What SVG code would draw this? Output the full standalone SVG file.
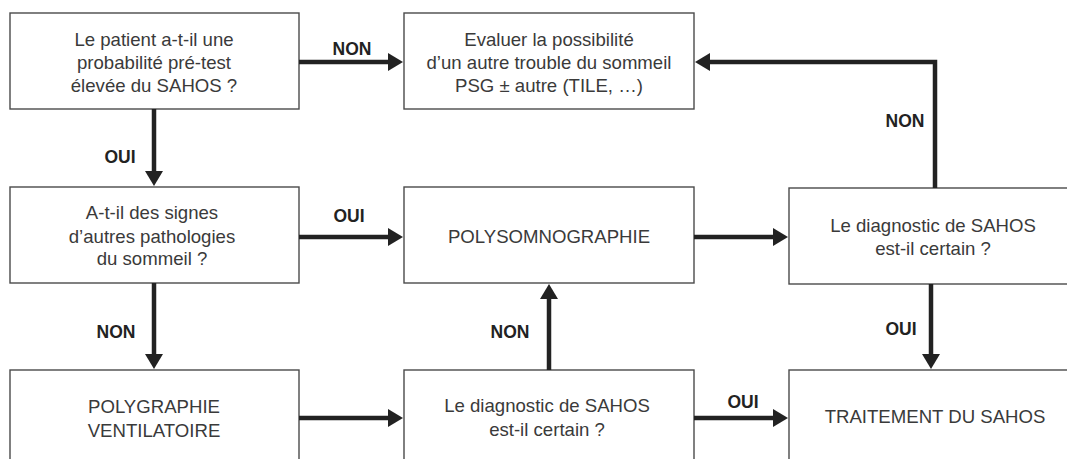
<svg xmlns="http://www.w3.org/2000/svg" width="1067" height="459" viewBox="0 0 1067 459">
<style>
.box{fill:#fff;stroke:#4a4a4a;stroke-width:1.4}
.t{font-family:"Liberation Sans",Arial,sans-serif;font-size:18.6px;fill:#3a3a3a;text-anchor:middle}
.lbl{font-family:"Liberation Sans",Arial,sans-serif;font-size:17.5px;font-weight:bold;fill:#222;text-anchor:middle}
.c{fill:none;stroke:#222;stroke-width:4.5;stroke-linecap:butt;stroke-linejoin:miter}
</style>
<defs>
<marker id="ah" markerUnits="userSpaceOnUse" markerWidth="16" markerHeight="20" refX="1" refY="9" orient="auto" viewBox="0 0 16 18">
<path d="M0,0 L15,9 L0,18 Z" fill="#222"/>
</marker>
</defs>
<rect width="1067" height="459" fill="#fff"/>
<g id="n1"><rect class="box" x="10" y="13" width="289" height="96"/>
<text class="t" x="154" y="46">Le patient a-t-il une</text>
<text class="t" x="154" y="69">probabilité pré-test</text>
<text class="t" x="154" y="92">élevée du SAHOS ?</text></g>
<g id="n2"><rect class="box" x="404" y="13" width="290" height="96"/>
<text class="t" x="549" y="46">Evaluer la possibilité</text>
<text class="t" x="549" y="69">d’un autre trouble du sommeil</text>
<text class="t" x="549" y="92">PSG ± autre (TILE, …)</text></g>
<g id="n3"><rect class="box" x="10" y="187" width="289" height="96"/>
<text class="t" x="152" y="219">A-t-il des signes</text>
<text class="t" x="152" y="243">d’autres pathologies</text>
<text class="t" x="152" y="265">du sommeil ?</text></g>
<g id="n4"><rect class="box" x="404" y="187" width="290" height="96"/>
<text class="t" x="549" y="243">POLYSOMNOGRAPHIE</text></g>
<g id="n5"><rect class="box" x="789" y="188" width="290" height="96"/>
<text class="t" x="933" y="232">Le diagnostic de SAHOS</text>
<text class="t" x="933" y="255">est-il certain ?</text></g>
<g id="n6"><rect class="box" x="10" y="370" width="289" height="100"/>
<text class="t" x="154" y="413">POLYGRAPHIE</text>
<text class="t" x="154" y="437">VENTILATOIRE</text></g>
<g id="n7"><rect class="box" x="404" y="370" width="290" height="100"/>
<text class="t" x="547" y="412">Le diagnostic de SAHOS</text>
<text class="t" x="547" y="436">est-il certain ?</text></g>
<g id="n8"><rect class="box" x="789" y="370" width="290" height="100"/>
<text class="t" x="935" y="423">TRAITEMENT DU SAHOS</text></g>
<g id="connectors">
<path class="c" d="M299,62 H389" marker-end="url(#ah)"/>
<path class="c" d="M154,109 V172" marker-end="url(#ah)"/>
<path class="c" d="M299,237 H389" marker-end="url(#ah)"/>
<path class="c" d="M154,283 V355" marker-end="url(#ah)"/>
<path class="c" d="M299,418 H389" marker-end="url(#ah)"/>
<path class="c" d="M549,370 V298" marker-end="url(#ah)"/>
<path class="c" d="M694,418 H774" marker-end="url(#ah)"/>
<path class="c" d="M694,237 H774" marker-end="url(#ah)"/>
<path class="c" d="M935,188 V62 H709" marker-end="url(#ah)"/>
<path class="c" d="M931,284 V355" marker-end="url(#ah)"/>
<text class="lbl" x="352" y="55">NON</text>
<text class="lbl" x="120" y="163">OUI</text>
<text class="lbl" x="349" y="222">OUI</text>
<text class="lbl" x="116" y="338">NON</text>
<text class="lbl" x="510" y="338">NON</text>
<text class="lbl" x="743" y="408">OUI</text>
<text class="lbl" x="905" y="127">NON</text>
<text class="lbl" x="901" y="335">OUI</text>
</g>
</svg>
